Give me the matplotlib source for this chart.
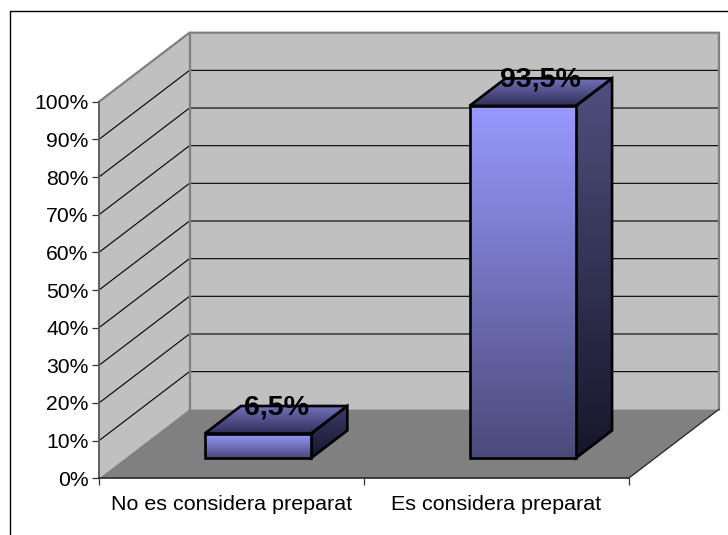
import numpy as np
import matplotlib
matplotlib.use("Agg")
import matplotlib.pyplot as plt
from matplotlib.patches import Polygon
from matplotlib.colors import LinearSegmentedColormap
from matplotlib.lines import Line2D

categories = ["No es considera preparat", "Es considera preparat"]
values = [6.5, 93.5]
value_labels = ["6,5%", "93,5%"]
y_ticks = [0, 10, 20, 30, 40, 50, 60, 70, 80, 90, 100]

W, H = 728, 535
plt.rcParams["font.family"] = ["Liberation Sans", "DejaVu Sans"]

# plot box of the front plane, in pixels
X0, X1, Y0, Y1 = 99.0, 628.5, 478.3, 101.7
PX_X = (X1 - X0) / 2
PX_Y = (Y0 - Y1) / 100
DX, DY = 90.5 / PX_X, 69.0 / PX_Y        # depth of the box in data units
BAR_W = 0.402
D_FRONT, D_BACK = 0.294, 0.693           # depth range of the bars


def p(x, v, d=0.0):
    return (x + d * DX, v + d * DY)


fig = plt.figure(figsize=(W / 100, H / 100), dpi=100, facecolor="white")

# chart area frame, open at right and bottom like the source
fig.add_artist(Line2D([9.5 / W, 9.5 / W, 1], [0, 1 - 11 / H, 1 - 11 / H], color="black", lw=1.0))

ax = fig.add_axes([X0 / W, 1 - Y0 / H, (X1 - X0) / W, (Y0 - Y1) / H])
ax.patch.set_visible(False)
ax.set_xlim(0, 2)
ax.set_ylim(0, 100)

# walls and floor
ax.add_patch(Polygon([p(0, 0), p(0, 100), p(0, 100, 1), p(0, 0, 1)], fc="#c0c0c0", ec="none", clip_on=False, zorder=1))
ax.add_patch(Polygon([p(0, 0, 1), p(0, 100, 1), p(2, 100, 1), p(2, 0, 1)], fc="#c0c0c0", ec="none", clip_on=False, zorder=1))
ax.add_patch(Polygon([p(0, 0), p(2, 0), p(2, 0, 1), p(0, 0, 1)], fc="#808080", ec="none", clip_on=False, zorder=1))

# gridlines
for v in y_ticks[1:-1]:
    a, b, c = p(0, v), p(0, v, 1), p(2, v, 1)
    ax.plot([a[0], b[0], c[0]], [a[1], b[1], c[1]], color="black", lw=0.8, clip_on=False, zorder=2,
            solid_joinstyle="miter")

# wall edges
edge = [p(0, 100), p(0, 100, 1), p(2, 100, 1), p(2, 0, 1)]
ax.plot(*zip(*edge), color="#808080", lw=1.6, clip_on=False, zorder=3)
ax.plot(*zip(p(0, 0, 1), p(0, 100, 1)), color="#808080", lw=1.6, clip_on=False, zorder=3)
ax.plot(*zip(p(2, 0), p(2, 0, 1)), color="#222222", lw=0.9, clip_on=False, zorder=3)


def shade(pts, top, bottom, z):
    # vertical gradient clipped to a face of the bar
    cmap = LinearSegmentedColormap.from_list("f", [top, bottom])
    xs, ys = zip(*pts)
    im = ax.imshow(np.linspace(0, 1, 256)[:, None], cmap=cmap, aspect="auto", origin="upper",
                   extent=(min(xs), max(xs), min(ys), max(ys)), zorder=z, interpolation="bilinear")
    face = Polygon(pts, fc="none", ec="black", lw=1.9, clip_on=False, zorder=z + 0.1, joinstyle="miter")
    ax.add_patch(face)
    im.set_clip_box(fig.bbox)
    im.set_clip_path(face)


for i, (val, lab) in enumerate(zip(values, value_labels)):
    l, r = i + 0.5 - BAR_W / 2, i + 0.5 + BAR_W / 2
    shade([p(l, val, D_FRONT), p(r, val, D_FRONT), p(r, val, D_BACK), p(l, val, D_BACK)],
          "#7272bb", "#2e2e58", 5)
    shade([p(r, 0, D_FRONT), p(r, val, D_FRONT), p(r, val, D_BACK), p(r, 0, D_BACK)],
          "#50507f" if val > 50 else "#3c3c6c", "#16162a", 5)
    shade([p(l, 0, D_FRONT), p(r, 0, D_FRONT), p(r, val, D_FRONT), p(l, val, D_FRONT)],
          "#9999ff", "#4a4a7a", 6)
    cx, cy = p(i + 0.5, val, (D_FRONT + D_BACK) / 2)
    ax.annotate(lab, (cx, cy), xytext=(0, 4.0), textcoords="offset points", ha="center", va="baseline",
                fontsize=20.5, fontweight="bold", color="black", zorder=8, annotation_clip=False)

ax.set_xlim(0, 2)
ax.set_ylim(0, 100)

# axes
for s in ["top", "right"]:
    ax.spines[s].set_visible(False)
ax.spines["left"].set_color("#606060")
ax.spines["left"].set_linewidth(1.4)
ax.spines["bottom"].set_color("#222222")
ax.spines["bottom"].set_linewidth(1.1)
ax.spines["left"].set_zorder(4)
ax.spines["bottom"].set_zorder(4)

ax.set_yticks(y_ticks)
ax.set_yticklabels([f"{v}%" for v in y_ticks], fontsize=15.2, color="black")
ax.tick_params(axis="y", length=5, width=0.9, color="#333333", pad=2.5)
ax.set_xticks([0, 1, 2])
ax.set_xticklabels([])
ax.tick_params(axis="x", which="major", length=5, width=0.9, color="#333333")
ax.set_xticks([0.5, 1.5], minor=True)
ax.set_xticklabels(categories, minor=True, fontsize=15.45, color="black")
ax.tick_params(axis="x", which="minor", length=0, pad=12)

fig.savefig("out.png", dpi=100, facecolor="white")
